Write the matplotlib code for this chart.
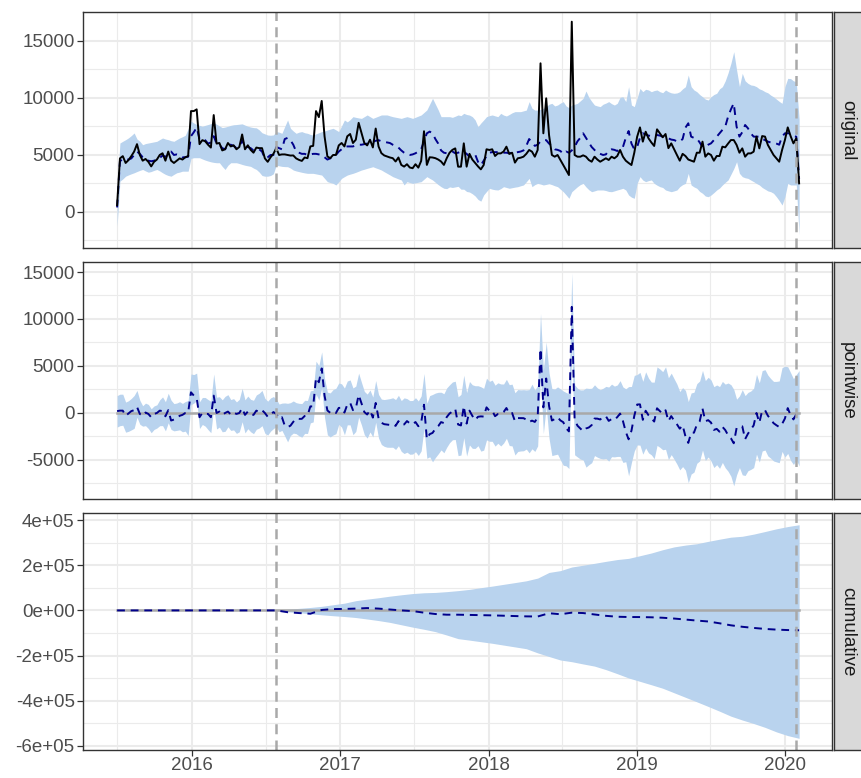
import matplotlib
matplotlib.use('Agg')
import matplotlib.pyplot as plt
import numpy as np
import pandas as pd

plt.rcParams['font.family'] = ['Liberation Sans', 'DejaVu Sans']

# Weekly series, first week starts 2015-07-01
start_date = '2015-07-01'
pre_end_week = 56     # index of the week where the intervention starts
post_end_week = 239   # index of the last week of the post period

observed = [
    600, 4700, 4900, 4300, 4550, 4900, 5300, 5950, 5000, 4500,
    4650, 4400, 4000, 4400, 4600, 5000, 5150, 4500, 5300, 4500,
    4300, 4500, 4700, 4600, 4800, 4900, 8850, 8850, 9000, 5950,
    6300, 6200, 5900, 5650, 8500, 6000, 6050, 5400, 5500, 6050,
    5750, 5850, 5500, 5700, 6800, 5500, 5850, 5450, 5200, 5650,
    5600, 5600, 4700, 4400, 4800, 5100, 5600, 5000, 5050, 5050,
    5000, 4950, 4960, 4700, 4570, 4480, 4780, 4720, 5750, 5800,
    8850, 8320, 9740, 6640, 4870, 4720, 5000, 5000, 5840, 6050,
    5750, 6640, 6840, 6050, 6340, 7820, 6930, 6050, 5840, 6340,
    5660, 7320, 5750, 5160, 4960, 4870, 4780, 4720, 4430, 4780,
    4130, 3980, 4190, 3900, 3840, 4190, 3890, 4480, 7080, 4130,
    4800, 4780, 4720, 4600, 4430, 4130, 4720, 5200, 5450, 5580,
    3975, 3975, 6020, 3975, 5100, 4600, 4300, 4000, 3740, 4120,
    5500, 5440, 5500, 4910, 5140, 5140, 5300, 5730, 5090, 5200,
    4330, 4710, 4760, 4850, 5100, 5440, 5290, 4850, 5440, 13040,
    6900, 9970, 6750, 5000, 4850, 5000, 4560, 4120, 3680, 3240,
    16690, 5000, 4850, 4850, 4970, 4850, 4560, 4410, 4850, 4600,
    4410, 4560, 4710, 4560, 4850, 4710, 4910, 5440, 4850, 4500,
    4300, 4120, 5200, 6600, 7420, 6170, 7040, 6460, 6100, 5790,
    7250, 6900, 6550, 6840, 5600, 6020, 5500, 5000, 4500, 5100,
    4910, 4600, 4500, 4410, 5200, 5200, 6170, 4850, 5140, 5000,
    4500, 4910, 4910, 5730, 5670, 6000, 6310, 6310, 5880, 5200,
    5580, 4850, 5140, 5140, 5290, 6610, 5580, 6660, 6610, 5880,
    5440, 5000, 4700, 4410, 5440, 6310, 7420, 6660, 6020, 6460,
    2510,
]

predicted = [
    400, 4450, 4650, 4600, 4600, 4700, 5000, 5300, 5100, 4800,
    4600, 4500, 4450, 4500, 4600, 4750, 4950, 4850, 5000, 5300,
    5000, 5050, 5000, 4800, 4800, 4850, 6650, 7000, 7400, 6400,
    6300, 6300, 6000, 6100, 6650, 6000, 5900, 5600, 5500, 5900,
    5900, 5800, 5600, 5700, 6300, 5700, 5700, 5600, 5400, 5400,
    5500, 5300, 4700, 4800, 5000, 5000, 5700, 5600, 5500, 6400,
    6500, 6300, 5900, 5300, 5200, 5100, 5100, 5000, 5050, 5100,
    5100, 5050, 5000, 4800, 4600, 4700, 4850, 5000, 5300, 5500,
    5700, 5750, 5750, 5750, 5850, 5900, 5900, 5950, 6000, 6050,
    6150, 6250, 6300, 6200, 6150, 6100, 6050, 5900, 5800, 5650,
    5400, 5200, 5050, 5000, 5050, 5150, 5300, 5500, 6200, 6900,
    7050, 6900, 6400, 6000, 5400, 5200, 5150, 5250, 5300, 5150,
    5200, 5300, 5290, 5100, 4850, 4900, 5050, 4400, 4100, 4500,
    4900, 5200, 5250, 5250, 5250, 5250, 5200, 5200, 5150, 5200,
    5200, 5250, 5300, 5400, 5800, 6400, 6100, 5800, 5900, 6200,
    6300, 6300, 6000, 5800, 5500, 5450, 5350, 5100, 5300, 5200,
    5400, 5700, 6200, 6500, 6900, 6500, 6100, 5700, 5440, 5200,
    5100, 5000, 5050, 5400, 5500, 5450, 5350, 5500, 5700, 6500,
    7100, 6000, 5500, 5700, 6500, 6900, 6800, 6700, 6660, 6700,
    6750, 6700, 6610, 6550, 6460, 6350, 6310, 6200, 6170, 6400,
    7400, 7780, 6610, 6500, 6460, 6100, 5700, 5730, 5900, 6020,
    6300, 6600, 6900, 7200, 7480, 8360, 9000, 9530, 7480, 6610,
    7000, 7630, 7340, 6900, 6610, 6610, 6610, 6400, 6310, 6170,
    6100, 6080, 6000, 5900, 6610, 6900, 6900, 6900, 6700, 6600,
    2900,
]

pred_lower = [
    -1250, 2700, 2900, 3140, 3250, 3350, 3440, 3550, 3650, 3730,
    3600, 3490, 3550, 3650, 3730, 3600, 3440, 3300, 3200, 3140,
    3300, 3440, 3500, 3580, 3580, 3580, 4700, 4760, 4760, 4760,
    4650, 4550, 4470, 4400, 4350, 4320, 4320, 4000, 3730, 4100,
    4320, 4320, 4320, 4250, 4170, 4100, 4050, 4000, 3850, 3730,
    3500, 3200, 3140, 3140, 3200, 3350, 4100, 4050, 4000, 3980,
    3970, 3850, 3680, 3600, 3540, 3480, 3430, 3390, 3390, 3390,
    3340, 3290, 3240, 2950, 2660, 2580, 2510, 2370, 2650, 2950,
    3100, 3240, 3320, 3390, 3480, 3580, 3680, 3750, 3830, 3900,
    3970, 3870, 3780, 3680, 3530, 3390, 3250, 3100, 3000, 2900,
    2810, 2370, 2660, 2580, 2510, 2560, 2610, 2660, 2880, 3100,
    2950, 2810, 2600, 2400, 2220, 2080, 2050, 2200, 2150, 2200,
    2250, 2000, 2000, 1800, 1750, 1600, 1400, 1100, 950, 1500,
    1800, 2080, 2000, 1950, 1930, 2050, 2220, 2150, 2080, 2130,
    2180, 2220, 2300, 2370, 2650, 2950, 2220, 2400, 2510, 2450,
    2370, 2420, 2480, 2400, 2300, 2220, 2000, 1780, 1500, 1200,
    1780, 2000, 2220, 2400, 2510, 2200, 1950, 1780, 1850, 1930,
    1930, 1930, 1880, 1800, 1780, 1850, 1930, 2000, 2080, 1930,
    1490, 1300, 1200, 2510, 3100, 2800, 2660, 2750, 2810, 2510,
    2350, 2220, 2150, 1930, 1850, 1780, 1850, 1930, 2220, 2400,
    2510, 3390, 2370, 2200, 2080, 1800, 1640, 1400, 1340, 1490,
    1700, 1930, 2100, 2370, 2600, 2810, 3300, 3800, 4410, 3390,
    3100, 3000, 2950, 2800, 2660, 2500, 2370, 2150, 2000, 1850,
    1780, 1640, 1340, 1000, 610, 1340, 2500, 2370, 2370, 2370,
    -2000,
]

pred_upper = [
    2100, 6050, 6200, 6340, 6500, 6700, 6930, 6400, 6200, 5900,
    6000, 6050, 6100, 6150, 6200, 6350, 6490, 6400, 6340, 6250,
    6200, 6350, 6490, 6600, 6730, 7300, 7970, 7800, 7670, 7600,
    7520, 7600, 7670, 7750, 7820, 7700, 7550, 7400, 7450, 7520,
    7600, 7650, 7670, 7700, 7730, 7620, 7520, 7450, 7400, 7380,
    7200, 6950, 6850, 6750, 6730, 6760, 7050, 7000, 6900, 7500,
    8070, 7340, 7100, 6900, 7000, 7050, 6950, 6900, 6800, 6750,
    6850, 6950, 7050, 7100, 7190, 7270, 7340, 7200, 7050, 7550,
    8070, 7900, 8100, 8360, 8300, 8250, 8210, 8360, 8510, 8360,
    8210, 8310, 8410, 8510, 8510, 8510, 8430, 8360, 8310, 8260,
    8210, 8290, 8360, 8290, 8210, 8310, 8410, 8510, 8730, 8950,
    9460, 9970, 9460, 8950, 8360, 8360, 8360, 8360, 8300, 8400,
    8510, 8450, 8650, 8550, 8500, 8360, 8070, 7480, 7800, 8070,
    8360, 8450, 8510, 8430, 8360, 8650, 8500, 8420, 8550, 8700,
    8800, 8800, 8800, 8870, 8940, 9680, 9100, 8940, 8940, 9000,
    9090, 9240, 9450, 9530, 9300, 9380, 9550, 9680, 9300, 9150,
    9380, 9450, 9530, 9750, 9970, 10610, 10060, 9700, 9380, 9300,
    9240, 9450, 9550, 9680, 9500, 9380, 9530, 10060, 10110, 9680,
    10990, 9380, 9240, 10000, 10840, 10550, 10760, 10700, 10550, 10650,
    10700, 10550, 10460, 10700, 10550, 10450, 10410, 10440, 10550, 10800,
    10990, 12010, 10990, 10700, 10550, 10300, 10110, 9900, 9820, 10110,
    10300, 10410, 10800, 10990, 11500, 12200, 13040, 14060, 12450, 11000,
    12160, 11500, 11280, 11140, 11100, 10990, 10800, 10700, 10550, 10450,
    10250, 10100, 9900, 9700, 9530, 10990, 11720, 11700, 11500, 11430,
    8150,
]

cum_step = 4
cum_mean = [0] * 15 + [
    -8000, -11700, -14700, 2000, 5900, 6500, 8000, 10300, 8000, 4000,
    0, -3000, -10000, -16000, -19000, -19000, -20000, -21000, -22000, -23500,
    -25000, -26400, -27000, -12500, -17000, -10000, -11700, -18000, -24000, -28000,
    -29300, -29500, -30500, -32500, -36000, -40500, -45000, -49000, -57000, -66000,
    -72500, -77500, -82000, -85000, -87000, -88000,
]
cum_lower = [0] * 15 + [
    -6000, -10000, -15000, -19500, -23500, -27000, -31500, -38100, -45000, -53000,
    -63500, -74000, -83500, -94000, -109000, -125000, -131500, -138500, -145500, -153500,
    -161500, -169500, -188000, -204000, -219500, -227000, -237000, -246500, -262000, -280000,
    -299000, -314000, -329000, -344500, -364500, -384500, -404500, -425000, -446000, -468000,
    -485000, -500500, -517500, -537500, -554000, -566000,
]
cum_upper = [0] * 15 + [
    5000, 9000, 13000, 18000, 25000, 32000, 43000, 49900, 56000, 63000,
    69000, 74500, 78000, 79500, 83000, 87500, 93000, 100500, 107500, 115300,
    123000, 131000, 143000, 168000, 176000, 192000, 200000, 208300, 217000, 225000,
    230300, 242000, 254000, 268500, 281000, 289000, 295000, 305500, 315000, 324000,
    328000, 337500, 349000, 361000, 371000, 379000,
]

panel_names = ['original', 'pointwise', 'cumulative']
year_ticks = ['2016', '2017', '2018', '2019', '2020']

dates = pd.date_range(start_date, periods=len(observed), freq='7D')
obs = np.array(observed, dtype=float)
pred = np.array(predicted, dtype=float)
lo = np.array(pred_lower, dtype=float)
hi = np.array(pred_upper, dtype=float)

# pointwise effect = observed - counterfactual
point = obs - pred
point_lo = obs - hi
point_hi = obs - lo

cum_dates = dates[::cum_step]

band_col = '#B9D3EE'
line_col = '#00008B'
grey_col = '#A9A9A9'
dash = (0, (4, 3))

fig = plt.figure(figsize=(8.62, 7.78), dpi=100)
W, H = 862.0, 778.0
left, right = 83, 832
tops = [12, 262, 513]
bottoms = [248, 499, 750]

axes = []
for k in range(3):
    ax = fig.add_axes([left / W, 1 - bottoms[k] / H, (right - left) / W,
                       (bottoms[k] - tops[k]) / H])
    axes.append(ax)
    # facet strip on the right
    sx = fig.add_axes([834 / W, 1 - bottoms[k] / H, 30 / W,
                       (bottoms[k] - tops[k]) / H])
    sx.set_facecolor('#D9D9D9')
    sx.set_xticks([])
    sx.set_yticks([])
    for s in sx.spines.values():
        s.set_color('#333333')
        s.set_linewidth(1.0)
    sx.text(0.45, 0.5, panel_names[k], rotation=-90, ha='center', va='center',
            fontsize=13.5, color='#1A1A1A', transform=sx.transAxes)

ax1, ax2, ax3 = axes

# original
ax1.fill_between(dates, lo, hi, color=band_col, lw=0, zorder=2)
ax1.plot(dates, pred, color=line_col, lw=1.4, ls=dash, zorder=3)
ax1.plot(dates, obs, color='black', lw=1.4, zorder=4)

# pointwise
ax2.fill_between(dates, point_lo, point_hi, color=band_col, lw=0, zorder=2)
ax2.plot([dates[0], dates[-1]], [0, 0], color=grey_col, lw=1.8, zorder=3)
ax2.plot(dates, point, color=line_col, lw=1.4, ls=dash, zorder=4)

# cumulative
ax3.fill_between(cum_dates, cum_lower, cum_upper, color=band_col, lw=0, zorder=2)
ax3.plot([dates[0], dates[-1]], [0, 0], color=grey_col, lw=1.8, zorder=3)
ax3.plot(cum_dates, cum_mean, color=line_col, lw=1.4, ls=dash, zorder=4)

ylims = [(-3158, 17540), (-9150, 16064), (-617700, 431000)]
ymajor = [[0, 5000, 10000, 15000],
          [-5000, 0, 5000, 10000, 15000],
          [-6e5, -4e5, -2e5, 0, 2e5, 4e5]]
ylabels = [['0', '5000', '10000', '15000'],
           ['-5000', '0', '5000', '10000', '15000'],
           ['-6e+05', '-4e+05', '-2e+05', '0e+00', '2e+05', '4e+05']]
yminor = [[-2500, 2500, 7500, 12500, 17500],
          [-7500, -2500, 2500, 7500, 12500],
          [-5e5, -3e5, -1e5, 1e5, 3e5]]

xmajor = [pd.Timestamp(y + '-01-01') for y in year_ticks]
xminor = [pd.Timestamp(str(y) + '-07-01') for y in range(2015, 2020)]

for k, ax in enumerate(axes):
    ax.set_facecolor('white')
    ax.set_xlim(pd.Timestamp('2015-04-08'), pd.Timestamp('2020-04-26'))
    ax.set_ylim(*ylims[k])
    ax.set_yticks(ymajor[k])
    ax.set_yticklabels(ylabels[k])
    ax.set_yticks(yminor[k], minor=True)
    ax.set_xticks(xmajor)
    ax.set_xticks(xminor, minor=True)
    ax.grid(which='major', color='#EBEBEB', lw=1.5, zorder=0)
    ax.grid(which='minor', color='#EBEBEB', lw=0.8, zorder=0)
    ax.set_axisbelow(True)
    for s in ax.spines.values():
        s.set_color('#333333')
        s.set_linewidth(1.0)
        s.set_zorder(10)
    ax.tick_params(axis='y', which='major', length=4, width=0.9, color='#333333',
                   labelsize=13.5, labelcolor='#4D4D4D', pad=2)
    ax.tick_params(which='minor', length=0)
    for d in (dates[pre_end_week], dates[post_end_week]):
        ax.axvline(d, color=grey_col, lw=1.8, ls=(0, (4, 2.5)), zorder=6)
    if k < 2:
        ax.tick_params(axis='x', which='major', length=0, labelbottom=False)
    else:
        ax.set_xticklabels(year_ticks)
        ax.tick_params(axis='x', which='major', length=4, width=0.9, color='#333333',
                       labelsize=13.5, labelcolor='#4D4D4D', pad=1)

fig.savefig('out.png', dpi=100)
